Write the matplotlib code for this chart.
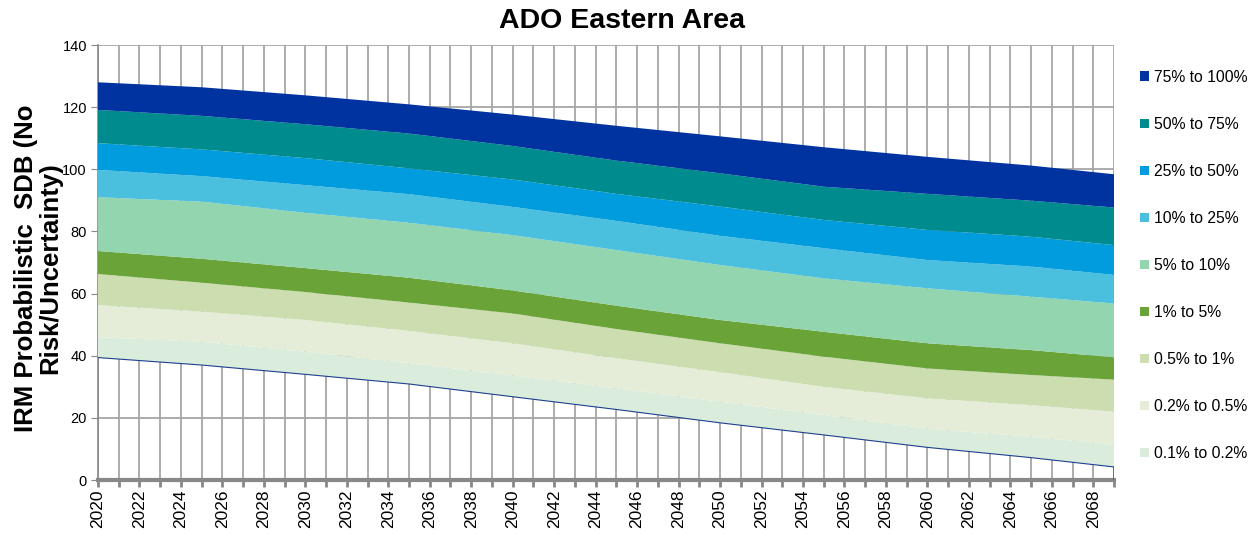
import matplotlib
matplotlib.use("Agg")
import matplotlib.pyplot as plt
from matplotlib.patches import Patch
import numpy as np

plt.rcParams['font.family'] = ['Liberation Sans', 'DejaVu Sans']

years = [2020, 2025, 2030, 2035, 2040, 2045, 2050, 2055, 2060, 2065, 2069]

# Invisible base series (below 0.1%)
base = [39.4, 37.0, 34.0, 30.9, 26.8, 22.7, 18.4, 14.5, 10.5, 7.2, 4.2]
# Band thicknesses
b_01_02 = [6.6, 7.5, 7.3, 6.7, 6.8, 6.8, 6.8, 6.4, 6.0, 6.7, 7.2]
b_02_05 = [10.3, 9.7, 10.2, 10.4, 10.4, 9.7, 9.5, 9.1, 9.8, 10.2, 10.6]
b_05_1 = [10.0, 9.3, 9.0, 9.1, 9.6, 9.4, 9.3, 9.7, 9.6, 9.7, 10.3]
b_1_5 = [7.4, 7.7, 7.7, 8.0, 7.4, 7.5, 7.5, 8.0, 8.1, 8.0, 7.2]
b_5_10 = [17.3, 18.4, 17.8, 17.7, 17.8, 17.9, 17.7, 17.2, 17.7, 17.2, 17.3]
b_10_25 = [8.8, 8.2, 8.9, 9.2, 9.1, 9.4, 9.4, 9.7, 9.1, 9.7, 9.2]
b_25_50 = [8.6, 8.6, 8.7, 8.3, 8.8, 8.7, 9.4, 9.1, 9.7, 9.6, 9.6]
b_50_75 = [10.7, 10.8, 10.9, 11.2, 10.8, 10.7, 10.7, 10.7, 11.6, 11.6, 12.1]
b_75_100 = [8.9, 9.2, 9.3, 9.4, 10.1, 11.2, 11.9, 12.7, 11.9, 11.3, 10.7]

labels = ["0.1% to 0.2%", "0.2% to 0.5%", "0.5% to 1%", "1% to 5%", "5% to 10%",
          "10% to 25%", "25% to 50%", "50% to 75%", "75% to 100%"]
colors = ["#DAEDDD", "#E5EDD9", "#CCDDB0", "#6AA338", "#92D5AE",
          "#4BC0DE", "#009CDE", "#008B8E", "#0033A0"]
bands = [b_01_02, b_02_05, b_05_1, b_1_5, b_5_10, b_10_25, b_25_50, b_50_75, b_75_100]

W, H = 1258, 541
fig = plt.figure(figsize=(W / 100, H / 100), dpi=100)
ax = fig.add_axes([98 / W, 1 - 480 / H, (1114 - 98) / W, (480 - 45) / H])

x = np.array(years)
polys = ax.stackplot(x, base, *bands, colors=["none"] + colors, linewidth=0, zorder=3)
# base series outline (dark blue thin line)
ax.plot(years + [years[-1]], base + [0], color="#1F3F8F", lw=0.8, zorder=4)

ax.set_xlim(2020, 2069)
ax.set_ylim(0, 140)
ax.set_xticks(np.arange(2020, 2070))
ax.set_xticklabels([str(y) if y % 2 == 0 else "" for y in range(2020, 2070)],
                   rotation=90, fontsize=12.5)
ax.set_yticks(np.arange(0, 141, 20))
ax.tick_params(axis='y', labelsize=10.5, length=5, color="#888888", pad=3)
ax.tick_params(axis='x', length=5, width=2, color="#888888", pad=2)
ax.grid(True, color="#A6A6A6", lw=1.3, zorder=0)
ax.set_axisbelow(True)
for s in ["top", "right"]:
    ax.spines[s].set_visible(False)
ax.spines["left"].set_color("#888888")
ax.spines["left"].set_linewidth(1.2)
ax.spines["bottom"].set_color("#888888")
ax.spines["bottom"].set_linewidth(3)

fig.text(622 / W, 1 - 21 / H, "ADO Eastern Area", ha="center", va="center",
         fontsize=20.5, fontweight="bold")
fig.text(38 / W, 1 - 268 / H, "IRM Probabilistic  SDB (No\nRisk/Uncertainty)",
         rotation=90, ha="center", va="center", fontsize=18.5, fontweight="bold",
         linespacing=1.0)

handles = [Patch(facecolor=c, edgecolor="none") for c in colors][::-1]
leg = fig.legend(handles, labels[::-1], loc="upper left",
                 bbox_to_anchor=(1134 / W, 1 - 63.5 / H), frameon=False,
                 fontsize=11.3, handlelength=0.55, handleheight=0.55,
                 handletextpad=0.35, labelspacing=2.04, borderaxespad=0)

fig.savefig("out.png", dpi=100)
